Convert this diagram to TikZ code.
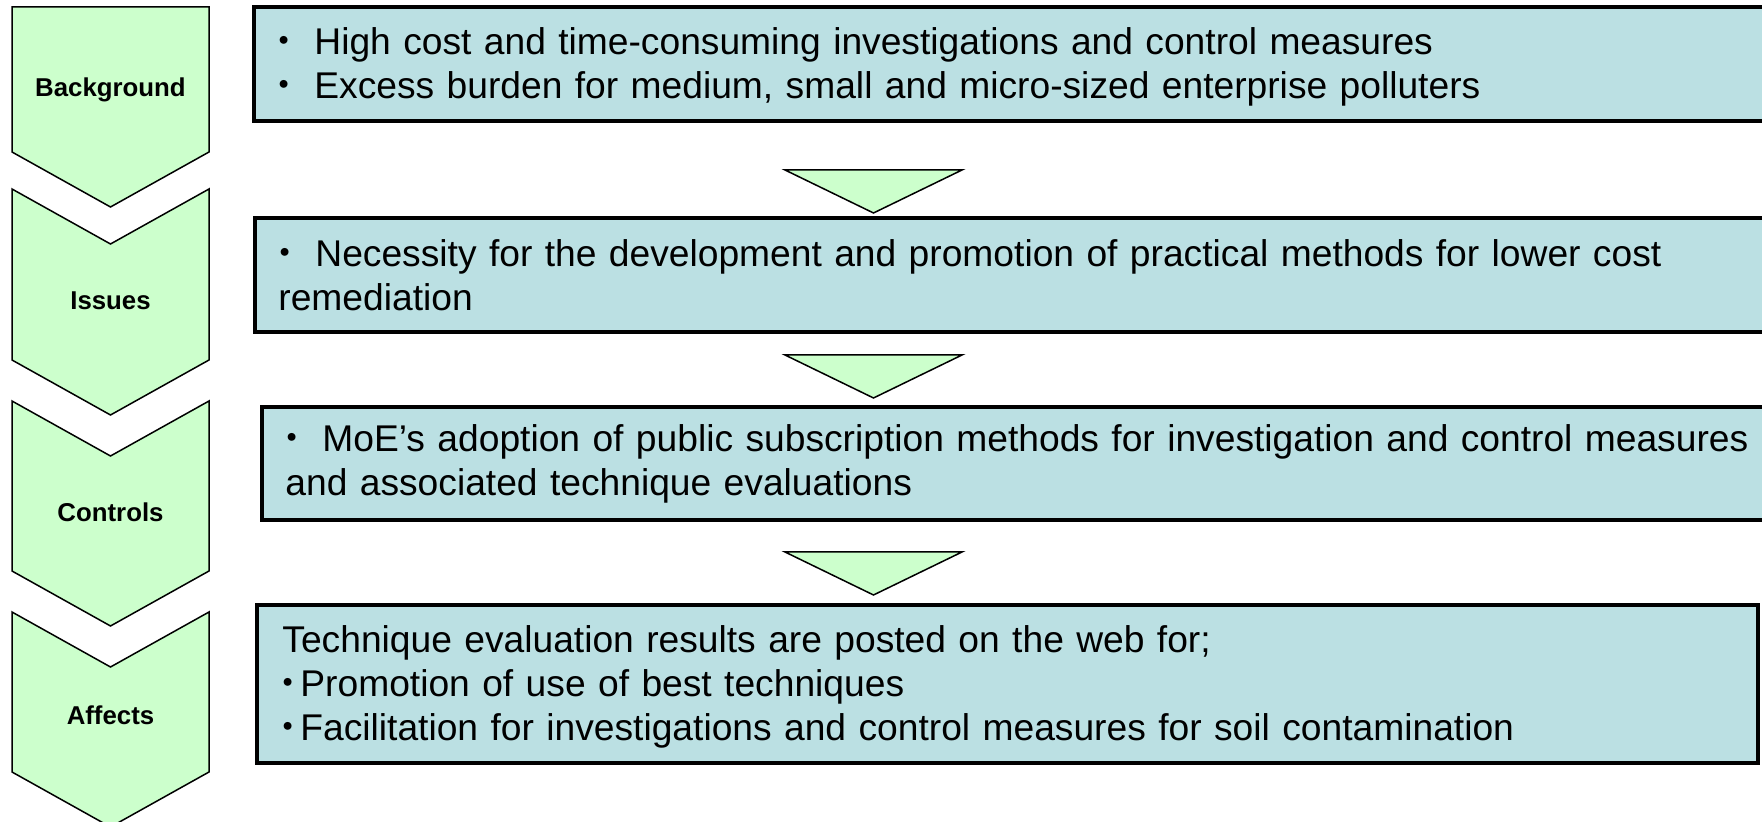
\documentclass[tikz,border=0pt]{standalone}
\usepackage{fontspec}
\setmainfont{Liberation Sans}
\newfontfamily\cjk{Noto Sans CJK JP}
\usepackage{tikz}
\usetikzlibrary{calc}

\definecolor{chevgreen}{HTML}{CCFFCC}
\definecolor{boxblue}{HTML}{BBE0E3}
\newcommand{\bul}{\makebox[7pt][c]{\cjk ・}\hspace{11.5pt}}
\newcommand{\sbul}{\makebox[5.5pt][c]{\cjk ・}\hspace{3.5pt}}

\tikzset{
    chev/.style={draw=black, line width=0.75pt, fill=chevgreen, line join=miter},
    infobox/.style={draw=black, line width=1.75pt, fill=boxblue},
    boxtext/.style={anchor=base west, inner sep=0pt, align=left, text width=780pt,
        font=\fontsize{18.6}{22}\selectfont},
    chevlabel/.style={font=\fontsize{12.9}{15}\selectfont\bfseries}
}

\begin{document}
\begin{tikzpicture}[x=0.5pt, y=-0.5pt]
    \useasboundingbox (0,0) rectangle (1762,822);

    % chevrons on the left
    \draw[chev] (12,7) -- (209,7) -- (209,152) -- (110.5,207) -- (12,152) -- cycle;
    \foreach \t/\b in {189/360, 401/571, 612/772}
        \draw[chev] (12,\t) -- (110.5,\t+55) -- (209,\t) -- (209,\b) -- (110.5,\b+55) -- (12,\b) -- cycle;

    \node[chevlabel] (background) at (110.5,90) {Background};
    \node[chevlabel] (issues) at (110.5,301) {Issues};
    \node[chevlabel] (controls) at (110.5,512) {Controls};
    \node[chevlabel] (affects) at (110.5,715) {Affects};

    % boxes
    \draw[infobox] (254,7) rectangle (1780,121);
    \draw[infobox] (255,218) rectangle (1780,332);
    \draw[infobox] (262,407) rectangle (1780,520);
    \draw[infobox] (257,605) rectangle (1758,763);

    % small arrows between the boxes
    \foreach \y in {170, 355, 552}
        \draw[chev] (785,\y) -- (962,\y) -- (873.5,\y+43) -- cycle;

    \node[boxtext] (bgtext) at (277,55) {\bul High cost and time-consuming investigations and control measures\\
        \bul Excess burden for medium, small and micro-sized enterprise polluters};
    \node[boxtext] (istext) at (278,267) {\bul Necessity for the development and promotion of practical methods for lower cost\\
        remediation};
    \node[boxtext] (cotext) at (285,452) {\bul MoE’s adoption of public subscription methods for investigation and control measures\\
        and associated technique evaluations};
    \node[boxtext] (aftext) at (282,653) {Technique evaluation results are posted on the web for;\\
        \sbul Promotion of use of best techniques\\
        \sbul Facilitation for investigations and control measures for soil contamination};
\end{tikzpicture}
\end{document}
